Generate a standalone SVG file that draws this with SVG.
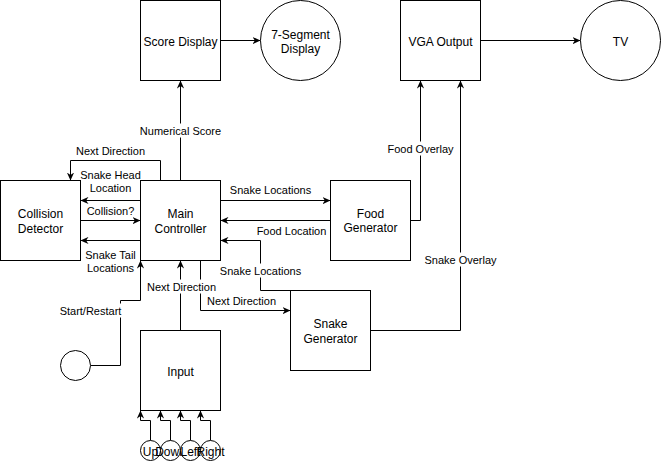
<svg xmlns="http://www.w3.org/2000/svg" width="662" height="462" viewBox="0 0 662 462">
<style>
.n{fill:#fff;stroke:#000;stroke-width:1}
.e{fill:none;stroke:#000;stroke-width:1;marker-end:url(#a)}
.p{fill:none;stroke:#000;stroke-width:1}
.t{font-family:"Liberation Sans",Arial,sans-serif;font-size:12px;fill:#000;text-anchor:middle;dominant-baseline:central}
.l{font-family:"Liberation Sans",Arial,sans-serif;font-size:11px;fill:#000;text-anchor:middle;dominant-baseline:central}
.bg{fill:#fff;stroke:none}
</style>
<defs>
<marker id="a" viewBox="0 0 10 10" markerWidth="8" markerHeight="8" refX="10" refY="5" orient="auto" markerUnits="userSpaceOnUse">
<path d="M0,0.5 L10,5 L0,9.5 L3,5 Z" fill="#000"/>
</marker>
</defs>
<rect width="662" height="462" fill="#fff"/>
<g transform="translate(0.5,0.5)">
<g id="connectors">
<path class="e" d="M220,40 L260,40"/>
<path class="e" d="M480,40 L580,40"/>
<path class="e" d="M410,220 L420,220 L420,80"/>
<path class="e" d="M370,330 L460,330 L460,80"/>
<path class="e" d="M180,180 L180,80"/>
<path class="e" d="M160,180 L160,160 L70,160 L70,180"/>
<path class="e" d="M140,200 L80,200"/>
<path class="e" d="M80,220 L140,220"/>
<path class="e" d="M140,240 L80,240"/>
<path class="e" d="M220,200 L330,200"/>
<path class="e" d="M330,220 L220,220"/>
<path class="e" d="M290,290 L260,290 L260,240 L220,240"/>
<path class="e" d="M200,260 L200,310 L290,310"/>
<path class="e" d="M180,330 L180,260"/>
<path class="e" d="M90,365 L120,365 L120,300 L140,300 L140,260"/>
<path class="e" d="M150,440 L150,420 L140,420 L140,410"/>
<path class="e" d="M170,440 L170,420 L160,420 L160,410"/>
<path class="e" d="M190,440 L190,420 L180,420 L180,410"/>
<path class="e" d="M210,440 L210,420 L200,420 L200,410"/>
<rect class="bg" x="139" y="123" width="82" height="14"/>
<text class="l" x="180" y="130">Numerical Score</text>
<rect class="bg" x="387" y="141" width="67" height="14"/>
<text class="l" x="420" y="148">Food Overlay</text>
<rect class="bg" x="424" y="252" width="72" height="14"/>
<text class="l" x="460" y="259">Snake Overlay</text>
<text class="l" x="110" y="150">Next Direction</text>
<text class="l" x="110" y="174">Snake Head</text>
<text class="l" x="110" y="187">Location</text>
<text class="l" x="110" y="210">Collision?</text>
<text class="l" x="110" y="254">Snake Tail</text>
<text class="l" x="110" y="267">Locations</text>
<text class="l" x="270" y="189">Snake Locations</text>
<text class="l" x="291" y="230">Food Location</text>
<rect class="bg" x="219" y="263" width="82" height="14"/>
<text class="l" x="260" y="270">Snake Locations</text>
<rect class="bg" x="145" y="279" width="72" height="14"/>
<text class="l" x="181" y="286">Next Direction</text>
<text class="l" x="241" y="300">Next Direction</text>
<rect class="bg" x="59" y="303" width="63" height="14"/>
<text class="l" x="90" y="310">Start/Restart</text>
</g>
<g id="score-display"><rect class="n" x="140" y="0" width="80" height="80"/><text class="t" x="180" y="41">Score Display</text></g>
<g id="seven-segment"><circle class="n" cx="300" cy="40" r="40"/><text class="t" x="300" y="34">7-Segment</text><text class="t" x="300" y="48">Display</text></g>
<g id="vga-output"><rect class="n" x="400" y="0" width="80" height="80"/><text class="t" x="440" y="41">VGA Output</text></g>
<g id="tv"><circle class="n" cx="620" cy="40" r="40"/><text class="t" x="620" y="41">TV</text></g>
<g id="collision-detector"><rect class="n" x="0" y="180" width="80" height="80"/><text class="t" x="40" y="213">Collision</text><text class="t" x="40" y="228">Detector</text></g>
<g id="main-controller"><rect class="n" x="140" y="180" width="80" height="80"/><text class="t" x="180" y="213">Main</text><text class="t" x="180" y="228">Controller</text></g>
<g id="food-generator"><rect class="n" x="330" y="180" width="80" height="80"/><text class="t" x="370" y="213">Food</text><text class="t" x="370" y="227">Generator</text></g>
<g id="snake-generator"><rect class="n" x="290" y="290" width="80" height="80"/><text class="t" x="330" y="323">Snake</text><text class="t" x="330" y="338">Generator</text></g>
<g id="input"><rect class="n" x="140" y="330" width="80" height="80"/><text class="t" x="180" y="371">Input</text></g>
<g id="start"><circle class="n" cx="75" cy="365" r="15"/></g>
<g id="up"><circle class="n" cx="150" cy="450" r="10"/><text class="t" x="150" y="451">Up</text></g>
<g id="down"><circle class="n" cx="170" cy="450" r="10"/><text class="t" x="170" y="451">Down</text></g>
<g id="left"><circle class="n" cx="190" cy="450" r="10"/><text class="t" x="190" y="451">Left</text></g>
<g id="right"><circle class="n" cx="210" cy="450" r="10"/><text class="t" x="210" y="451">Right</text></g>
</g>
</svg>
